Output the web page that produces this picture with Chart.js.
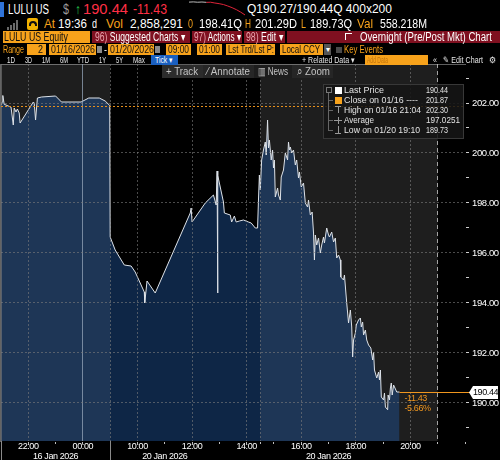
<!DOCTYPE html>
<html><head><meta charset="utf-8">
<script src="https://cdn.jsdelivr.net/npm/chart.js@4.4.1/dist/chart.umd.min.js"></script>
<style>
html,body{margin:0;padding:0;background:#000;}
body{width:500px;height:460px;position:relative;overflow:hidden;font-family:"Liberation Sans",Arial,sans-serif;color:#fff;}
.a{position:absolute;white-space:nowrap;}
.t{position:absolute;white-space:nowrap;transform-origin:0 50%;}
.o{color:#f7a21b;}
.r1{font-size:14px;line-height:16px;top:1px;}
.r2{font-size:13px;line-height:14px;top:17px;}
.r3{font-size:12px;line-height:12px;top:31px;}
.r4{font-size:11px;line-height:11px;top:44px;}
.r5{font-size:9px;line-height:10px;top:55px;color:#e6e6e6;}
.tbt{font-size:11px;line-height:13px;top:65px;color:#c4c4c4;}
.lg{font-size:9.5px;line-height:10px;color:#e2e2e2;}
.ob{position:absolute;background:#f7a21b;}
.rb{position:absolute;background:#7f1020;top:31px;height:12px;}
.tb{position:absolute;top:65px;height:13px;background:#262626;}
.pk{color:#e9a3ad;}
</style></head><body>
<canvas id="c" class="a" style="left:0;top:64px" width="500" height="396"></canvas>

<!-- row 1 -->
<div class="a" style="left:0;top:2px;width:4px;height:15px;background:#2f73d8"></div>
<div class="t r1" data-w="41" style="left:8px">LULU US</div>
<div class="t r1" data-w="6" style="left:63px;color:#9a9a9a">$</div>
<div class="t r1" data-w="6" style="left:75px;color:#22c24a">↑</div>
<div class="t r1" data-w="45" style="left:83px;color:#ff2f45;font-size:15px">190.44</div>
<div class="t r1" data-w="34" style="left:133px;color:#ff2f45">-11.43</div>
<canvas id="spark" class="a" style="left:188px;top:0" width="58" height="17"></canvas>
<div class="t r1" data-w="145" style="left:247px;font-size:13px">Q190.27/190.44Q 400x200</div>

<!-- row 2 -->
<div class="a" style="left:7px;top:27px;width:2px;height:3px;background:#6a6a6a"></div>
<div class="a" style="left:10px;top:25px;width:2px;height:5px;background:#6a6a6a"></div>
<div class="a" style="left:13px;top:23px;width:2px;height:7px;background:#6a6a6a"></div>
<div class="a" style="left:16px;top:20px;width:2px;height:10px;background:#6a6a6a"></div>
<div class="a" style="left:27px;top:18px;width:11px;height:12px;background:#f2b200;border-radius:2px"></div>
<div class="a" style="left:29px;top:21px;width:4px;height:3px;border:2px solid #111;border-bottom:none;border-radius:4px 4px 0 0"></div>
<div class="t r2 o" data-w="11" style="left:44px">At</div>
<div class="t r2" data-w="29" style="left:58px">19:36</div>
<div class="t r2" data-w="5" style="left:92px">d</div>
<div class="t r2 o" data-w="17" style="left:106px">Vol</div>
<div class="t r2" data-w="53" style="left:130px">2,858,291</div>
<div class="t r2 o" data-w="5" style="left:188px">0</div>
<div class="t r2" data-w="43" style="left:199px">198.41Q</div>
<div class="t r2 o" data-w="6" style="left:245px">H</div>
<div class="t r2" data-w="42" style="left:255px">201.29D</div>
<div class="t r2 o" data-w="5" style="left:301px">L</div>
<div class="t r2" data-w="42" style="left:310px">189.73Q</div>
<div class="t r2 o" data-w="16" style="left:357px">Val</div>
<div class="t r2" data-w="47" style="left:380px">558.218M</div>

<!-- row 3 -->
<div class="ob" style="left:3px;top:31px;width:87px;height:12px"></div>
<div class="t r3" data-w="64" style="left:4px;color:#111">LULU US Equity</div>
<div class="rb" style="left:92px;width:98px"></div>
<div class="rb" style="left:192px;width:50px"></div>
<div class="rb" style="left:244px;width:41px"></div>
<div class="rb" style="left:287px;width:213px"></div>
<div class="t r3" data-w="90" style="left:95px"><span class="pk">96)</span> Suggested Charts ▾</div>
<div class="t r3" data-w="47" style="left:194px"><span class="pk">97)</span> Actions ▾</div>
<div class="t r3" data-w="37" style="left:246px"><span class="pk">98)</span> Edit ▾</div>
<div class="a" style="left:345px;top:33px;width:6px;height:6px;border:1px solid #fff;border-right:none;border-bottom:none"></div>
<div class="t r3" data-w="132" style="left:360px">Overnight (Pre/Post Mkt) Chart</div>

<!-- row 4 -->
<div class="t r4 o" data-w="21" style="left:3px">Range</div>
<div class="ob" style="left:27px;top:44px;width:19px;height:11px"></div>
<div class="t r4" data-w="5" style="left:38px;color:#111">2</div>
<div class="ob" style="left:49px;top:44px;width:47px;height:11px"></div>
<div class="t r4" data-w="44" style="left:51px;color:#111">01/16/2026</div>
<div class="a" style="left:97px;top:46px;width:5px;height:7px;background:#8a8a8a"></div>
<div class="t r4" data-w="3" style="left:104px">-</div>
<div class="ob" style="left:108px;top:44px;width:46px;height:11px"></div>
<div class="t r4" data-w="44" style="left:110px;color:#111">01/20/2026</div>
<div class="a" style="left:155px;top:46px;width:5px;height:7px;background:#8a8a8a"></div>
<div class="ob" style="left:166px;top:44px;width:25px;height:11px"></div>
<div class="t r4" data-w="21" style="left:168px;color:#111">09:00</div>
<div class="ob" style="left:197px;top:44px;width:25px;height:11px"></div>
<div class="t r4" data-w="21" style="left:199px;color:#111">01:00</div>
<div class="ob" style="left:226px;top:44px;width:49px;height:11px"></div>
<div class="t r4" data-w="46" style="left:228px;color:#111">Lst Trd/Lst P:</div>
<div class="ob" style="left:280px;top:44px;width:43px;height:11px"></div>
<div class="t r4" data-w="38" style="left:282px;color:#111">Local CCY</div>
<div class="a" style="left:324px;top:44px;width:7px;height:11px;background:#555;font-size:8px;line-height:11px;text-align:center">▾</div>
<div class="a" style="left:336px;top:47px;width:6px;height:6px;background:#4a4a4a"></div>
<div class="t r4 o" data-w="39" style="left:344px">Key Events</div>

<!-- row 5 -->
<div class="t r5" data-w="8" style="left:7px">1D</div>
<div class="t r5" data-w="7" style="left:25px">3D</div>
<div class="t r5" data-w="8" style="left:42px">1M</div>
<div class="t r5" data-w="8" style="left:60px">6M</div>
<div class="t r5" data-w="12" style="left:77px">YTD</div>
<div class="t r5" data-w="7" style="left:99px">1Y</div>
<div class="t r5" data-w="7" style="left:116px">5Y</div>
<div class="t r5" data-w="12" style="left:133px">Max</div>
<div class="a" style="left:151px;top:55px;width:27px;height:10px;background:#1a5fbf"></div>
<div class="t r5" data-w="18" style="left:155px;color:#fff">Tick ▾</div>
<div class="t r5" data-w="53" style="left:302px">+ Related Data ▾</div>
<div class="ob" style="left:365px;top:55px;width:63px;height:10px"></div>
<div class="t r5" data-w="21" style="left:367px;color:#c2740e">Add Data</div>
<div class="t r5" data-w="4" style="left:433px">«</div>
<div class="t r5" data-w="40" style="left:443px">✎ Edit Chart</div>
<div class="t r5" data-w="7" style="left:489px">⚙</div>

<!-- toolbar -->
<div class="tb" style="left:162px;width:41px;background:#2c2c2c"></div>
<div class="tb" style="left:203px;width:51px"></div>
<div class="tb" style="left:254px;width:38px;background:#1d1d1d"></div>
<div class="tb" style="left:292px;width:41px"></div>
<div class="t tbt" data-w="32" style="left:166px">+ Track</div>
<div class="t tbt" data-w="43" style="left:207px">⁄ Annotate</div>
<div class="t tbt" data-w="30" style="left:258px">▥ News</div>
<div class="t tbt" data-w="33" style="left:297px">⌕ Zoom</div>

<!-- legend box -->
<div class="a" style="left:323px;top:84px;width:141px;height:55px;background:rgba(22,22,22,0.88);border:1px solid #383838;box-sizing:border-box"></div>
<div class="a" style="left:326px;top:87px;width:4px;height:4px;border:1px solid #777"></div>
<div class="a" style="left:328px;top:93px;width:1px;height:37px;background:#666"></div>
<div class="a" style="left:328px;top:100px;width:5px;height:1px;background:#666"></div>
<div class="a" style="left:328px;top:110px;width:5px;height:1px;background:#666"></div>
<div class="a" style="left:328px;top:120px;width:5px;height:1px;background:#666"></div>
<div class="a" style="left:328px;top:130px;width:5px;height:1px;background:#666"></div>
<div class="a" style="left:335px;top:87px;width:7px;height:7px;background:#fff"></div>
<div class="a" style="left:335px;top:97px;width:7px;height:7px;background:#f7a21b"></div>
<div class="a" style="left:335px;top:106px;width:6px;height:1px;background:#999"></div>
<div class="a" style="left:338px;top:106px;width:1px;height:7px;background:#999"></div>
<div class="a" style="left:334px;top:120px;width:8px;height:1px;background:#999"></div>
<div class="a" style="left:338px;top:117px;width:1px;height:7px;background:#999"></div>
<div class="a" style="left:335px;top:133px;width:6px;height:1px;background:#999"></div>
<div class="a" style="left:338px;top:126px;width:1px;height:7px;background:#999"></div>
<div id="legend"></div>

<script>
// ---------- data ----------
const jan16Times  = ["21:00","21:03","21:04","21:07","21:16","21:22","21:27","21:29","21:33","21:36","21:40","21:42","22:11","22:13","22:16","22:20","22:29","23:00","23:13","23:56","00:13","00:36","00:49","00:59"];
const jan16Prices = [201.92,202.05,202.30,201.95,201.88,201.84,201.12,201.80,201.64,201.76,201.60,201.20,202.04,202.00,201.32,202.20,202.24,202.28,202.04,202.04,202.20,202.20,202.08,201.90];

const jan20Times = ["09:00","09:11","09:31","09:46","09:55","10:15","10:16","10:21","10:39","11:56","11:58","12:00","12:29","12:47","12:53","12:55","12:56","12:57","13:09","13:11","13:24","13:27","13:33","13:37","13:44","13:53","14:04","14:10","14:19","14:24",
"14:26","14:28","14:30","14:33","14:37","14:41","14:43","14:46","14:48","14:50","14:54","14:57","14:59","15:01","15:03","15:08","15:10","15:14","15:16","15:21","15:25","15:30","15:32","15:34","15:36","15:39","15:43","15:47","15:50","15:54","15:56",
"16:00","16:05","16:09","16:14","16:16","16:20","16:24","16:27","16:29","16:31","16:34","16:38","16:42","16:45","16:49","16:51","16:56","17:00","17:02","17:07","17:11","17:15","17:18","17:22","17:26","17:27","17:33","17:35","17:38","17:40","17:42","17:44","17:48","17:51","17:53","17:55","17:59",
"18:01","18:06","18:10","18:12","18:15","18:17","18:21","18:24","18:28","18:33","18:37","18:39","18:41","18:46","18:50","18:52","18:54","18:56","19:01","19:03","19:05","19:10","19:11","19:14","19:16","19:18","19:20","19:23","19:25","19:30","19:36"];
const jan20Prices = [196.64,196.12,195.52,195.48,195.24,194.44,194.00,194.88,194.40,197.60,197.80,197.24,198.00,198.32,197.92,199.28,194.40,199.10,198.04,197.60,197.52,197.24,197.48,197.24,197.28,197.32,197.24,197.20,197.00,197.00,
198.12,199.12,198.52,199.72,200.12,200.44,199.92,201.32,200.20,200.52,199.72,200.12,199.40,199.72,198.24,198.60,198.32,198.12,199.04,199.32,200.00,199.72,200.44,200.12,200.24,200.00,200.12,199.52,199.72,199.00,199.24,
198.64,198.80,198.00,197.84,198.12,197.52,197.64,196.80,195.72,196.72,196.32,196.60,196.00,196.32,196.64,196.40,197.00,196.72,196.64,196.84,196.44,196.60,195.80,195.92,195.72,195.04,194.92,195.12,194.44,194.00,193.60,193.20,193.72,193.04,191.84,192.52,192.80,
193.12,193.32,193.40,193.04,193.24,192.72,192.92,192.52,192.32,192.20,191.72,192.04,191.32,191.00,191.24,190.92,191.32,190.24,190.12,190.40,189.84,189.73,190.32,190.12,190.60,190.80,190.32,190.72,190.64,190.44,190.44];

const closePrice = 201.87;
const lastPrice = 190.44;
const netChange = "-11.43";
const pctChange = "-5.66%";

const xTickHours  = [1, 3, 5, 7, 9, 11, 13, 15];
const xTickLabels = ["22:00","00:00","10:00","12:00","14:00","16:00","18:00","20:00"];
const dateTickHours  = [2, 6, 12];
const dateTickLabels = ["16 Jan 2026","20 Jan 2026","20 Jan 2026"];
const minorTickHours = [0,1,2,3,4,5,6,7,8,9,9.5,10,11,12,13,14,15,16,17];
const yTickValues = [189,190,191,192,193,194,195,196,197,198,199,200,201,202,203];

const legendLabels = ["Last Price","Close on 01/16 ----","High on 01/16 21:04","Average","Low on 01/20 19:10"];
const legendValues = ["190.44","201.87","202.30","197.0251","189.73"];
const legendLabelWidths = [40, 74, 77, 30, 76];
const legendValueWidths = [22, 22, 22, 34, 22];

const sparkGray = [202.0,202.2,201.9,202.1,201.8,null,null,null,null,null,null,null,null,null];
const sparkRed  = [null,null,null,null,201.8,201.9,201.2,200.6,199.8,198.5,197.0,195.2,193.0,190.44];

// ---------- legend text ----------
const lg = document.getElementById('legend');
legendLabels.forEach((t,i)=>{
  const top = 85 + i*10;
  lg.insertAdjacentHTML('beforeend',
    `<div class="t lg" data-w="${legendLabelWidths[i]}" style="left:344px;top:${top}px">${t}</div>` +
    `<div class="t lg" data-w="${legendValueWidths[i]}" style="left:426px;top:${top}px">${legendValues[i]}</div>`);
});

// ---------- condense header text to the reference widths ----------
document.querySelectorAll('[data-w]').forEach(el=>{
  const w = el.getBoundingClientRect().width;
  const target = +el.dataset.w;
  if (w > 0) el.style.transform = `scaleX(${(target / w).toFixed(3)})`;
});

// ---------- chart ----------
const FONT = '"Liberation Sans", Arial, sans-serif';
Chart.defaults.font.family = FONT;
Chart.defaults.color = '#ffffff';

function sessionHour(day, t){
  const [hh, mm] = t.split(':').map(Number);
  const c = hh + mm/60;
  if (day === 16) return c >= 21 ? c - 21 : c + 3;
  return 4 + c - 9;
}
const points = jan16Times.map((t,i)=>({x: sessionHour(16,t), y: jan16Prices[i]}))
  .concat(jan20Times.map((t,i)=>({x: sessionHour(20,t), y: jan20Prices[i]})));

const shadedBands = [[0,4],[9.5,16]];
const sessionSeparators = [0,4];
const GRID = 'rgba(125,125,125,0.6)';

const overlay = {
  id: 'overlay',
  beforeDraw(chart){
    const {ctx, chartArea: a, scales: {x}} = chart;
    ctx.save();
    ctx.fillStyle = '#000';
    ctx.fillRect(0, 0, chart.width, chart.height);
    ctx.fillStyle = '#1e1e1e';
    shadedBands.forEach(([s,e])=>{
      const x0 = x.getPixelForValue(s), x1 = x.getPixelForValue(e);
      ctx.fillRect(x0, a.top, x1 - x0, a.bottom - a.top);
    });
    ctx.restore();
    ctx.letterSpacing = '-0.4px';
  },
  afterDraw(chart){
    const {ctx, chartArea: a, scales: {x, y}} = chart;
    ctx.save();
    // close line
    const cy = Math.round(y.getPixelForValue(closePrice)) + 0.5;
    ctx.strokeStyle = '#e8901a'; ctx.lineWidth = 1; ctx.setLineDash([2,2]);
    ctx.beginPath(); ctx.moveTo(a.left, cy); ctx.lineTo(a.right, cy); ctx.stroke();
    ctx.setLineDash([]);
    // last price line
    const last = points[points.length-1];
    const lx = x.getPixelForValue(last.x);
    const py = Math.round(y.getPixelForValue(lastPrice)) + 0.5;
    ctx.strokeStyle = '#f0961e';
    ctx.beginPath(); ctx.moveTo(lx, py); ctx.lineTo(a.right + 5, py); ctx.stroke();
    // label box
    const bx = a.right + 4, bw = 29, bh = 13;
    ctx.fillStyle = '#ffffff';
    ctx.beginPath();
    ctx.moveTo(bx, py); ctx.lineTo(bx + 4, py - bh/2); ctx.lineTo(bx + bw, py - bh/2);
    ctx.lineTo(bx + bw, py + bh/2); ctx.lineTo(bx + 4, py + bh/2); ctx.closePath(); ctx.fill();
    ctx.fillStyle = '#000';
    ctx.font = '9px ' + FONT; ctx.textBaseline = 'middle'; ctx.textAlign = 'left';
    ctx.fillText(lastPrice.toFixed(2), bx + 4, py);
    // change texts
    ctx.fillStyle = '#f0961e';
    ctx.fillText(netChange, lx + 5, py + 6);
    ctx.fillText(pctChange, lx + 5, py + 16);
    // session separators in axis band
    ctx.strokeStyle = '#8a8a8a';
    sessionSeparators.forEach(v=>{
      const sx = Math.round(x.getPixelForValue(v)) + 0.5;
      ctx.beginPath(); ctx.moveTo(sx, a.bottom); ctx.lineTo(sx, chart.height); ctx.stroke();
    });
    ctx.restore();
  }
};

new Chart(document.getElementById('c'), {
  type: 'line',
  data: {
    datasets: [{
      data: points,
      borderColor: '#dde2e8',
      borderWidth: 1,
      pointRadius: 0,
      tension: 0,
      fill: 'start',
      backgroundColor: 'rgba(30,85,155,0.45)'
    }]
  },
  options: {
    responsive: false, animation: false, devicePixelRatio: 1,
    layout: {padding: {left: 1, right: 0, top: 0, bottom: 0}},
    plugins: {legend: {display: false}, tooltip: {enabled: false}},
    scales: {
      x: {
        type: 'linear', min: 0, max: 17,
        afterBuildTicks: s => { s.ticks = minorTickHours.map(v => ({value: v})); },
        afterFit: s => { s.height = 19; s.paddingLeft = 0; s.paddingRight = 0; },
        ticks: {
          autoSkip: false, maxRotation: 0, minRotation: 0, padding: -2,
          color: '#ffffff', font: {size: 9, lineHeight: '10px'},
          callback: v => {
            const i = xTickHours.indexOf(v);
            if (i >= 0) return [xTickLabels[i], ''];
            const d = dateTickHours.indexOf(v);
            if (d >= 0) return ['', dateTickLabels[d]];
            return '';
          }
        },
        grid: {
          z: 1, tickLength: 3, tickColor: '#bdbdbd', lineWidth: 1,
          color: c => {
            const v = c.tick && c.tick.value;
            if (v === 3) return 'rgba(150,165,185,0.75)';
            if (v === 16) return 'rgba(200,200,200,0.8)';
            if (v === 0 || v === 4 || v === 9.5 || xTickHours.includes(v)) return GRID;
            return 'rgba(0,0,0,0)';
          }
        },
        border: {
          color: '#bdbdbd', width: 1,
          dash: c => {
            const v = c.tick && c.tick.value;
            if (v === 3 || v === 0) return [];
            if (v === 16) return [4,3];
            return [2,2];
          }
        }
      },
      y: {
        position: 'right', min: 188.48, max: 203.56,
        afterBuildTicks: s => { s.ticks = yTickValues.map(v => ({value: v})); },
        afterFit: s => { s.width = 35; s.paddingTop = 0; s.paddingBottom = 0; },
        ticks: {
          padding: 3, color: '#ffffff', font: {size: 9.5},
          callback: v => (v % 2 === 0 ? v.toFixed(2) : '')
        },
        grid: {
          z: 1, tickLength: 4, tickColor: '#d0d0d0',
          color: c => (c.tick && c.tick.value % 2 === 0 ? GRID : 'rgba(0,0,0,0)')
        },
        border: {color: '#c8c8c8', width: 1, dash: [2,2]}
      }
    }
  },
  plugins: [overlay]
});

// sparkline in header
new Chart(document.getElementById('spark'), {
  type: 'line',
  data: {
    labels: sparkRed.map((_, i) => i),
    datasets: [
      {data: sparkGray, borderColor: '#bbbbbb', borderWidth: 1, pointRadius: 0, tension: 0},
      {data: sparkRed, borderColor: '#e0243a', borderWidth: 1, pointRadius: 0, tension: 0}
    ]
  },
  options: {
    responsive: false, animation: false, devicePixelRatio: 1,
    layout: {padding: 1},
    plugins: {legend: {display: false}, tooltip: {enabled: false}},
    scales: {x: {display: false}, y: {display: false, min: 189.5, max: 203}}
  }
});
</script>
</body></html>
